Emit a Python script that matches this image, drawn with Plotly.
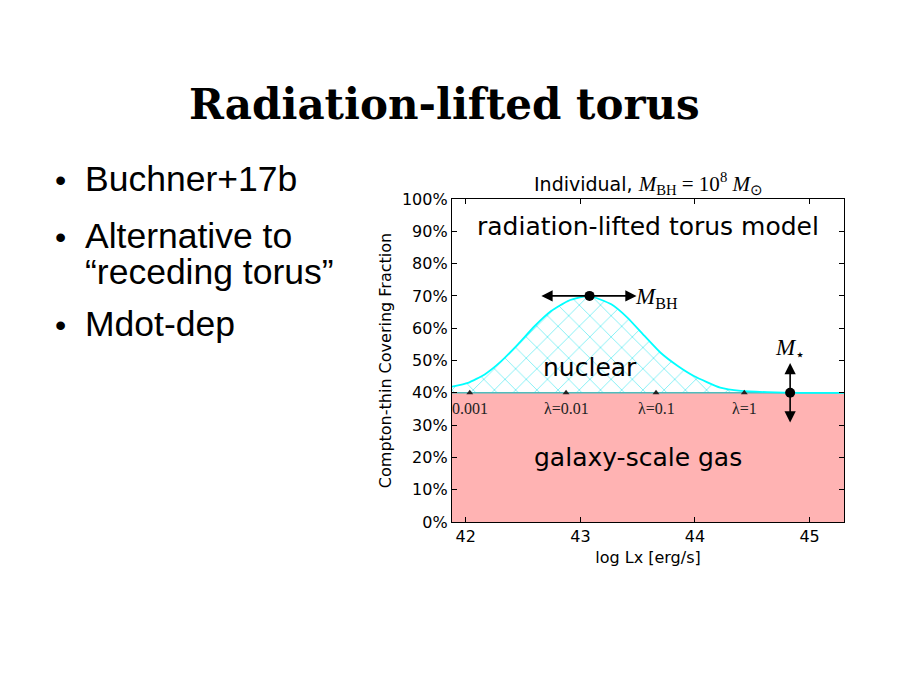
import plotly.graph_objects as go

# slide text
slide_title = "Radiation-lifted torus"
bullet_lines = [["Buchner+17b"], ["Alternative to", "“receding torus”"], ["Mdot-dep"]]

# nuclear (Compton-thin torus) covering fraction vs log Lx
log_lx = [41.88, 42.02, 42.165, 42.31, 42.455, 42.60, 42.745, 42.89, 43.005, 43.08,
          43.27, 43.41, 43.56, 43.70, 43.85, 43.99, 44.22, 44.40, 44.63, 44.92, 45.30]
covering = [41.9, 43.1, 45.7, 49.8, 55.0, 60.6, 65.3, 68.4, 69.6, 70.0,
            67.4, 63.3, 57.6, 52.4, 48.3, 45.2, 41.6, 40.6, 40.2, 40.0, 40.0]

galaxy_level = 40  # galaxy-scale gas contribution (%)
x_range = [41.88, 45.30]
x_ticks = [42, 43, 44, 45]
y_ticks = [0, 10, 20, 30, 40, 50, 60, 70, 80, 90, 100]
y_tick_labels = ["0%", "10%", "20%", "30%", "40%", "50%", "60%", "70%", "80%", "90%", "100%"]

# Eddington ratio markers
lambda_x = [42.035, 42.875, 43.66, 44.43]
lambda_labels = ["0.001", "λ=0.01", "λ=0.1", "λ=1"]

# M_BH and M_star "knobs"
mbh_x, mbh_y = 43.08, 70
mbh_arrow_x = [42.66, 43.49]
mstar_x, mstar_y = 44.83, 40
mstar_arrow_y = [49.2, 30.8]

serif = "Liberation Serif"
sans = "DejaVu Sans"
W, H, OFF = 900, 675, 7  # page offset seen in the screenshot


def px(x):
    return (x - OFF) / W


def py(y):
    return 1 - (y - OFF) / H


fig = go.Figure()

# galaxy-scale gas block
fig.add_trace(go.Scatter(
    x=x_range, y=[galaxy_level, galaxy_level], mode="lines",
    line=dict(color="#4fbcbc", width=1.5),
    fill="tozeroy", fillcolor="#ffb3b3", hoverinfo="skip", showlegend=False,
))
# base for the hatched nuclear region
fig.add_trace(go.Scatter(
    x=log_lx, y=[galaxy_level] * len(log_lx), mode="lines",
    line=dict(width=0, color="rgba(0,0,0,0)"), hoverinfo="skip", showlegend=False,
))
fig.add_trace(go.Scatter(
    x=log_lx, y=covering, mode="lines",
    line=dict(color="#00ffff", width=1.8, shape="spline", smoothing=0.5),
    fill="tonexty",
    fillpattern=dict(shape="x", fgcolor="rgba(0,225,235,0.6)",
                     bgcolor="rgba(255,255,255,0)", size=15, solidity=0.1),
    hoverinfo="skip", showlegend=False,
))
# lambda markers
fig.add_trace(go.Scatter(
    x=lambda_x, y=[galaxy_level] * len(lambda_x), mode="markers",
    marker=dict(symbol="triangle-up", size=6, color="#222222"),
    hoverinfo="skip", showlegend=False,
))
# knob dots
fig.add_trace(go.Scatter(
    x=[mbh_x, mstar_x], y=[mbh_y, mstar_y], mode="markers",
    marker=dict(symbol="circle", size=10, color="black"),
    hoverinfo="skip", showlegend=False,
))

annotations = []

# arrows
for ax_ in mbh_arrow_x:
    annotations.append(dict(
        x=ax_, y=mbh_y, ax=mbh_x, ay=mbh_y, xref="x", yref="y", axref="x", ayref="y",
        text="", showarrow=True, arrowhead=2, arrowsize=1.4, arrowwidth=1.6,
        arrowcolor="black",
    ))
for ay_ in mstar_arrow_y:
    annotations.append(dict(
        x=mstar_x, y=ay_, ax=mstar_x, ay=mstar_y, xref="x", yref="y", axref="x", ayref="y",
        text="", showarrow=True, arrowhead=2, arrowsize=1.4, arrowwidth=1.6,
        arrowcolor="black",
    ))

# lambda labels
for lx, lab in zip(lambda_x, lambda_labels):
    annotations.append(dict(
        x=lx, y=35.2, xref="x", yref="y", text=lab, showarrow=False,
        font=dict(family=serif, size=16, color="#222222"),
    ))

# region labels
annotations += [
    dict(x=43.59, y=91.6, xref="x", yref="y", text="radiation-lifted torus model",
         showarrow=False, font=dict(family=sans, size=25, color="black")),
    dict(x=43.08, y=47.7, xref="x", yref="y", text="nuclear",
         showarrow=False, font=dict(family=sans, size=25, color="black")),
    dict(x=43.50, y=20.1, xref="x", yref="y", text="galaxy-scale gas",
         showarrow=False, font=dict(family=sans, size=25, color="black")),
    dict(x=43.46, y=69.5, xref="x", yref="y", xanchor="left",
         text="<i>M</i><sub>BH</sub>", showarrow=False,
         font=dict(family=serif, size=23, color="black")),
    dict(x=44.83, y=53.5, xref="x", yref="y",
         text="<i>M</i><sub>⋆</sub>", showarrow=False,
         font=dict(family=serif, size=23, color="black")),
]

# chart title
annotations.append(dict(
    x=px(647), y=py(183), xref="paper", yref="paper", xanchor="center", yanchor="middle",
    showarrow=False,
    text="Individual, <span style=\"font-family:'Liberation Serif';font-size:21px\">"
         "<i>M</i><sub>BH</sub> = 10<sup>8</sup> <i>M</i><sub>⊙</sub></span>",
    font=dict(family=sans, size=19, color="black"),
))

# slide title
annotations.append(dict(
    x=px(443), y=py(104), xref="paper", yref="paper", xanchor="center", yanchor="middle",
    showarrow=False, text="<b>" + slide_title + "</b>",
    font=dict(family="DejaVu Serif", size=42, color="black"),
))

# bullets
bullet_baselines = [[190], [246.7, 283.3], [335]]
for lines, bases in zip(bullet_lines, bullet_baselines):
    annotations.append(dict(
        x=px(59), y=py(bases[0] - 11), xref="paper", yref="paper", xanchor="center",
        yanchor="middle", showarrow=False, text="•",
        font=dict(family="Liberation Sans", size=32, color="black"),
    ))
    for txt, b in zip(lines, bases):
        annotations.append(dict(
            x=px(82), y=py(b - 12), xref="paper", yref="paper", xanchor="left",
            yanchor="middle", showarrow=False, text=txt,
            font=dict(family="Liberation Sans", size=35.5, color="black"),
        ))

axis_common = dict(
    showline=True, linecolor="black", linewidth=1.3, mirror="allticks",
    ticks="inside", ticklen=5, tickcolor="black", showgrid=False, zeroline=False,
    automargin=False, tickfont=dict(family=sans, size=16, color="black"),
)

fig.update_layout(
    template="none",
    width=W, height=H, autosize=False,
    margin=dict(l=0, r=0, t=0, b=0, pad=0),
    paper_bgcolor="white", plot_bgcolor="white",
    showlegend=False,
    xaxis=dict(
        axis_common, domain=[px(451), px(843)], range=x_range,
        tickmode="array", tickvals=x_ticks,
        title=dict(text="log Lx [erg/s]", standoff=6,
                   font=dict(family=sans, size=16, color="black")),
    ),
    yaxis=dict(
        axis_common, domain=[py(521), py(198)], range=[0, 100],
        tickmode="array", tickvals=y_ticks, ticktext=y_tick_labels,
        title=dict(text="Compton-thin Covering Fraction", standoff=6,
                   font=dict(family=sans, size=16, color="black")),
    ),
    annotations=annotations,
)

fig.write_html("out.html")
